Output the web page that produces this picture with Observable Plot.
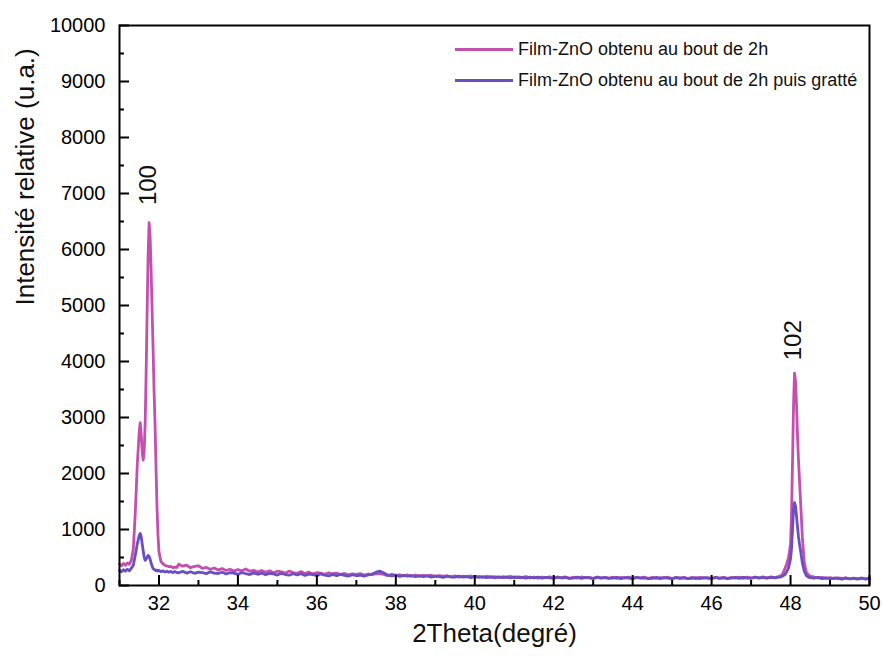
<!DOCTYPE html>
<html>
<head>
<meta charset="utf-8">
<script src="https://cdn.jsdelivr.net/npm/d3@7"></script>
<script src="https://cdn.jsdelivr.net/npm/@observablehq/plot@0.6"></script>
<style>
  html, body { margin: 0; padding: 0; background: #fff; }
  #wrap { position: relative; width: 882px; height: 660px; font-family: "Liberation Sans", Arial, sans-serif; }
  #legend { position: absolute; left: 455px; top: 34px; font-size: 18px; color: #111; }
  #legend .row { display: flex; align-items: center; height: 31px; }
  #legend .sw { display: inline-block; width: 58px; height: 3px; margin-right: 5px; }
</style>
</head>
<body>
<div id="wrap"><div id="legend"></div></div>
<script>
// ---- data ----
const seriesNames = ["Film-ZnO obtenu au bout de 2h", "Film-ZnO obtenu au bout de 2h puis gratté"];
const seriesColors = ["#c54fae", "#6a4fc2"];

const theta = [
  31.00,31.05,31.10,31.15,31.20,31.25,31.30,31.35,31.40,31.45,
  31.50,31.525,31.55,31.575,31.60,31.625,31.65,31.675,31.70,31.725,
  31.75,31.775,31.80,31.825,31.85,31.875,31.90,31.925,31.95,31.975,
  32.00,32.05,32.10,32.15,32.20,32.25,32.30,32.35,32.40,32.45,
  32.5,32.6,32.7,32.8,32.9,33.0,33.1,33.2,33.3,33.4,
  33.5,33.6,33.7,33.8,33.9,34.0,34.1,34.2,34.3,34.4,
  34.5,34.6,34.7,34.8,34.9,35.0,35.1,35.2,35.3,35.4,
  35.5,35.6,35.7,35.8,35.9,36.0,36.1,36.2,36.3,36.4,
  36.5,36.6,36.7,36.8,36.9,37.0,37.1,37.2,37.3,37.4,
  37.5,37.6,37.7,37.8,37.9,38.0,38.1,38.2,38.3,38.4,
  38.5,38.6,38.7,38.8,38.9,39.0,39.1,39.2,39.3,39.4,
  39.5,39.6,39.7,39.8,39.9,40.0,40.1,40.2,40.3,40.4,
  40.5,40.6,40.7,40.8,40.9,41.0,41.1,41.2,41.3,41.4,
  41.5,41.6,41.7,41.8,41.9,42.0,42.1,42.2,42.3,42.4,
  42.5,42.6,42.7,42.8,42.9,43.0,43.1,43.2,43.3,43.4,
  43.5,43.6,43.7,43.8,43.9,44.0,44.1,44.2,44.3,44.4,
  44.5,44.6,44.7,44.8,44.9,45.0,45.1,45.2,45.3,45.4,
  45.5,45.6,45.7,45.8,45.9,46.0,46.1,46.2,46.3,46.4,
  46.5,46.6,46.7,46.8,46.9,47.0,47.1,47.2,47.3,47.4,
  47.5,47.6,
  47.65,47.70,47.75,47.80,47.85,47.90,47.95,48.00,48.025,48.05,
  48.075,48.10,48.125,48.15,48.175,48.20,48.225,48.25,48.275,48.30,
  48.35,48.40,48.45,48.50,
  48.6,48.7,48.8,48.9,49.0,49.1,49.2,49.3,49.4,49.5,49.6,49.7,49.8,49.9,50.0
];

const film2h = [
  385,352,395,360,402,378,450,650,1300,2150,
  2750,2910,2700,2380,2240,2400,2900,3800,4900,5900,
  6480,6250,5650,4950,4250,3500,2880,2100,1400,900,
  600,430,385,362,348,336,342,318,330,322,
  380,345,362,318,340,352,305,322,290,312,
  275,302,268,290,258,284,262,295,255,272,
  240,268,236,262,228,255,242,220,258,232,
  218,248,212,238,205,230,222,200,228,210,
  222,196,215,190,208,198,212,186,205,192,
  210,218,196,178,200,176,192,170,188,168,
  188,162,180,170,184,158,176,166,170,154,
  172,150,166,158,170,146,162,150,165,142,
  160,140,156,148,162,136,152,144,158,134,
  152,132,150,142,155,130,148,140,152,128,
  150,130,152,138,146,128,150,136,144,130,
  149,128,146,138,150,127,144,136,148,126,
  146,126,142,135,148,125,140,134,145,124,
  144,124,146,133,140,126,145,130,147,127,
  144,130,150,128,148,134,152,132,154,138,
  155,140,
  152,160,172,205,290,380,500,740,1300,2200,
  3200,3790,3650,3250,2700,2250,1900,1550,1200,850,
  400,240,190,165,
  152,134,146,128,140,122,138,126,135,118,132,124,130,116,126
];

const film2hGratte = [
  268,245,282,255,290,262,310,360,540,740,
  895,928,870,740,620,505,450,470,505,535,
  520,470,405,345,305,288,280,262,275,258,
  268,248,262,240,256,238,250,232,248,230,
  228,252,222,246,218,240,230,212,244,220,
  214,236,206,230,220,198,232,210,196,226,
  200,222,192,216,206,186,218,196,184,210,
  190,210,180,204,194,176,206,186,172,198,
  176,198,182,168,192,174,186,166,190,205,
  238,256,224,184,170,188,162,180,168,174,
  158,178,160,172,150,170,158,146,168,152,
  148,166,150,160,142,162,146,154,140,158,
  138,156,142,150,134,154,140,146,132,150,
  136,150,130,146,138,128,150,134,144,126,
  132,148,128,144,136,124,148,132,140,126,
  130,146,124,142,134,122,146,130,138,124,
  128,144,122,140,132,120,144,128,136,122,
  126,142,124,140,130,121,143,128,138,125,
  130,144,128,146,134,126,148,136,142,132,
  146,138,
  140,148,152,168,190,240,320,480,660,1000,
  1350,1480,1420,1250,1050,880,750,640,520,400,
  250,175,150,140,
  132,146,124,138,118,134,126,112,132,120,128,114,130,118,124
];

const peakLabels = ["100", "102"];
const peakTheta = [31.72, 48.07];
const peakIntensity = [7150, 4380];

const xTicks = [32, 34, 36, 38, 40, 42, 44, 46, 48, 50];
const xMinorTicks = [31, 33, 35, 37, 39, 41, 43, 45, 47, 49];
const yTicks = [0, 1000, 2000, 3000, 4000, 5000, 6000, 7000, 8000, 9000, 10000];
const yMinorTicks = [500, 1500, 2500, 3500, 4500, 5500, 6500, 7500, 8500, 9500];

const xLabel = "2Theta(degré)";
const yLabel = "Intensité relative (u.a.)";

// ---- build ----
const dataA = theta.map((t, i) => ({theta: t, I: film2h[i]}));
const dataB = theta.map((t, i) => ({theta: t, I: film2hGratte[i]}));
const peaks = peakLabels.map((l, i) => ({label: l, theta: peakTheta[i], I: peakIntensity[i]}));

const font = "'Liberation Sans', Arial, Helvetica, sans-serif";
const W = 882, H = 660, mL = 119, mR = 13, mT = 25, mB = 75;
const frameW = W - mL - mR, frameH = H - mT - mB;
const majorLen = 10, minorLen = 5;

const chart = Plot.plot({
  width: W,
  height: H,
  marginLeft: mL,
  marginRight: mR,
  marginTop: mT,
  marginBottom: mB,
  style: {fontFamily: font, background: "white", color: "black"},
  x: {domain: [31, 50]},
  y: {domain: [0, 10000]},
  marks: [
    Plot.lineY(dataA, {x: "theta", y: "I", stroke: seriesColors[0], strokeWidth: 2.8, strokeLinejoin: "round"}),
    Plot.lineY(dataB, {x: "theta", y: "I", stroke: seriesColors[1], strokeWidth: 2.8, strokeLinejoin: "round"}),
    Plot.text(peaks, {x: "theta", y: "I", text: "label", rotate: -90, fontSize: 24, fill: "#111"}),
    // inward ticks
    Plot.tickX(xTicks, {x: d => d, insetTop: frameH - majorLen, stroke: "black", strokeWidth: 2}),
    Plot.tickX(xMinorTicks, {x: d => d, insetTop: frameH - minorLen, stroke: "black", strokeWidth: 2}),
    Plot.tickY(yTicks, {y: d => d, insetRight: frameW - majorLen, stroke: "black", strokeWidth: 2}),
    Plot.tickY(yMinorTicks, {y: d => d, insetRight: frameW - minorLen, stroke: "black", strokeWidth: 2}),
    Plot.frame({stroke: "black", strokeWidth: 2}),
    Plot.axisX({ticks: xTicks, tickSize: 0, tickPadding: 10, tickFormat: d => String(d), fontSize: 20, label: null}),
    Plot.axisY({ticks: yTicks, tickSize: 0, tickPadding: 14, tickFormat: d => String(d), fontSize: 20, label: null}),
    Plot.text([xLabel], {frameAnchor: "bottom", dy: 56, fontSize: 26, fill: "#111"}),
    Plot.text([yLabel], {frameAnchor: "left", dx: -94, rotate: -90, fontSize: 26, fill: "#111"})
  ]
});

const wrap = document.getElementById("wrap");
wrap.insertBefore(chart, wrap.firstChild);

const legend = document.getElementById("legend");
seriesNames.forEach((name, i) => {
  const row = document.createElement("div");
  row.className = "row";
  const sw = document.createElement("span");
  sw.className = "sw";
  sw.style.background = seriesColors[i];
  const tx = document.createElement("span");
  tx.textContent = name;
  row.appendChild(sw);
  row.appendChild(tx);
  legend.appendChild(row);
});
</script>
</body>
</html>
